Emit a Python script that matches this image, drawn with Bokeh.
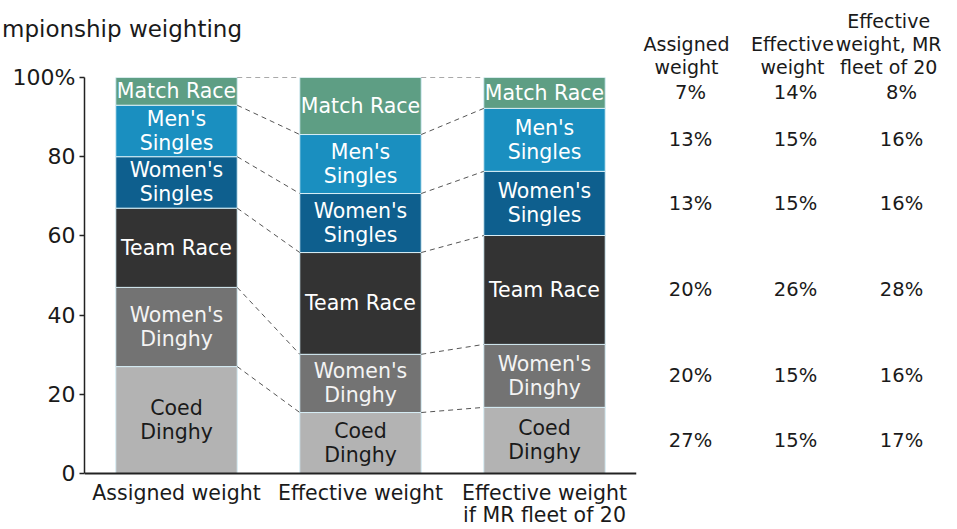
from bokeh.plotting import figure
from bokeh.models import ColumnDataSource, FixedTicker, Range1d, Span, LinearAxis
from bokeh.layouts import row
from bokeh.embed import file_html
from bokeh.resources import INLINE
from bokeh.core.properties import value

# ---------------- data ----------------
bars = ["Assigned weight", "Effective weight", "Effective weight\nif MR fleet of 20"]
events = ["Coed Dinghy", "Women's Dinghy", "Team Race", "Women's Singles", "Men's Singles", "Match Race"]
seg_labels = ["Coed\nDinghy", "Women's\nDinghy", "Team Race", "Women's\nSingles", "Men's\nSingles", "Match Race"]
assigned = [27, 20, 20, 13, 13, 7]
effective = [15.4, 14.7, 25.7, 14.9, 14.9, 14.4]
mr20 = [16.7, 15.9, 27.5, 16.2, 15.9, 7.8]

table_headers = ["Assigned\nweight", "Effective\nweight", "Effective\nweight, MR\nfleet of 20"]
table_assigned = [27, 20, 20, 13, 13, 7]
table_effective = [15, 15, 26, 15, 15, 14]
table_mr20 = [17, 16, 28, 16, 16, 8]

title_text = "mpionship weighting"   # visible part of the title, cropped at the left edge in the reference
y_ticks = [0, 20, 40, 60, 80, 100]

colors = ["#b3b3b3", "#737373", "#333333", "#0e5f8e", "#1a8fc0", "#5e9e84"]
text_colors = ["#1a1a1a", "#f4f4f4", "#ffffff", "#ffffff", "#ffffff", "#ffffff"]
FONT = value("DejaVu Sans")
TXT = "#1a1a1a"

series = [assigned, effective, mr20]


def cumulative(vals):
    out, s = [], 0
    for v in vals:
        out.append((s, s + v))
        s += v
    return out


# ---------------- geometry (pixels) ----------------
H = 527
MAIN_W = 640
TABLE_W = 941 - MAIN_W
FRAME_LEFT = 84
FRAME_TOP = 77           # canvas px of y = 100
PLOT_H = 396             # px from y = 0 to y = 100
PX = PLOT_H / 100.0


def y_of(canvas_px):
    return 100 - (canvas_px - FRAME_TOP) / PX


Y_BOT = y_of(H)
BW = 0.66
centers = [i + 0.5 for i in range(len(bars))]   # bar positions on the category scale

# ---------------- sources ----------------
xs, tops, bottoms, mids, cols, labs, tcols = [], [], [], [], [], [], []
for cx, vals in zip(centers, series):
    for (lo, hi), c, lab, tc in zip(cumulative(vals), colors, seg_labels, text_colors):
        xs.append(cx); bottoms.append(lo); tops.append(hi); mids.append((lo + hi) / 2)
        cols.append(c); labs.append(lab); tcols.append(tc)
src = ColumnDataSource(dict(x=xs, top=tops, bottom=bottoms, mid=mids, color=cols, label=labs, tcolor=tcols))

x0, x1, y0, y1 = [], [], [], []
for i in range(len(bars) - 1):
    c0 = cumulative(series[i])
    c1 = cumulative(series[i + 1])
    for k in range(len(events)):
        x0.append(centers[i] + BW / 2); x1.append(centers[i + 1] - BW / 2)
        y0.append(c0[k][1]); y1.append(c1[k][1])
seg_src = ColumnDataSource(dict(x0=x0, x1=x1, y0=y0, y1=y1))

# ---------------- main chart ----------------
p = figure(x_range=Range1d(0, len(bars)), y_range=Range1d(Y_BOT, 100),
           width=MAIN_W, height=H, output_backend="svg", toolbar_location=None,
           x_axis_location=None,
           min_border_left=FRAME_LEFT, min_border_right=4, min_border_top=FRAME_TOP, min_border_bottom=0)
p.outline_line_color = None
p.grid.visible = False
p.background_fill_color = "white"
p.border_fill_color = "white"

# title: the single label of an axis above the frame
TITLE_X = 0.1875
title_axis = LinearAxis(ticker=FixedTicker(ticks=[TITLE_X]),
                        major_label_overrides={TITLE_X: title_text})
title_axis.axis_line_color = None
title_axis.major_tick_line_color = None
title_axis.minor_tick_line_color = None
title_axis.major_tick_out = 0
title_axis.major_tick_in = 0
title_axis.major_label_standoff = 36
title_axis.major_label_text_font = "DejaVu Sans"
title_axis.major_label_text_font_size = "23px"
title_axis.major_label_text_color = TXT
p.add_layout(title_axis, "above")

p.vbar(x="x", top="top", bottom="bottom", width=BW, fill_color="color",
       line_color="#d6edf5", line_width=1, source=src)
p.text(x="x", y="mid", text="label", text_color="tcolor", text_align="center",
       text_baseline="middle", text_font=FONT, text_font_size="20.5px",
       text_line_height=1.0, source=src)

p.segment(x0="x0", y0="y0", x1="x1", y1="y1",
          line_color="#555555", line_width=1, line_dash="5 4", source=seg_src)

# x axis line and category labels
p.add_layout(Span(location=0, dimension="width", line_color="#222222", line_width=2))
cat_src = ColumnDataSource(dict(x=centers, y=[y_of(480)] * len(bars), text=bars))
p.text(x="x", y="y", text="text", source=cat_src, text_align="center",
       text_baseline="top", text_font=FONT, text_font_size="20.5px",
       text_color=TXT, text_line_height=0.92)

# y axis
p.yaxis.ticker = FixedTicker(ticks=y_ticks)
p.yaxis.bounds = (0, 100)
p.yaxis.major_label_overrides = {100: "100%"}
p.yaxis.axis_line_width = 1.5
p.yaxis.axis_line_color = "#222222"
p.yaxis.major_tick_line_color = "#222222"
p.yaxis.major_tick_line_width = 1.5
p.yaxis.major_tick_out = 5
p.yaxis.major_tick_in = 0
p.yaxis.minor_tick_line_color = None
p.yaxis.major_label_standoff = 4
p.yaxis.major_label_text_font = "DejaVu Sans"
p.yaxis.major_label_text_font_size = "22px"
p.yaxis.major_label_text_color = TXT

# ---------------- table ----------------
col_x_vals = [50, 155, 261]
col_x_head = [46, 152, 252]

t = figure(x_range=Range1d(0, TABLE_W), y_range=p.y_range,
           width=TABLE_W, height=H, output_backend="svg", toolbar_location=None,
           x_axis_location="above", y_axis_location=None,
           min_border_left=0, min_border_right=0, min_border_top=FRAME_TOP, min_border_bottom=0)
t.outline_line_color = None
t.grid.visible = False
t.background_fill_color = "white"
t.border_fill_color = "white"

t.xaxis.ticker = FixedTicker(ticks=col_x_head)
t.xaxis.major_label_overrides = {cx: h for cx, h in zip(col_x_head, table_headers)}
t.xaxis.axis_line_color = None
t.xaxis.major_tick_line_color = None
t.xaxis.minor_tick_line_color = None
t.xaxis.major_tick_out = 0
t.xaxis.major_tick_in = 0
t.xaxis.major_label_standoff = 0
t.xaxis.major_label_text_font = "DejaVu Sans"
t.xaxis.major_label_text_font_size = "19px"
t.xaxis.major_label_text_color = TXT
t.xaxis.major_label_text_line_height = 1.04

row_mids = [(lo + hi) / 2 for lo, hi in cumulative(mr20)]
vx, vy, vt = [], [], []
for cx, vals in zip(col_x_vals, [table_assigned, table_effective, table_mr20]):
    for ry, v in zip(row_mids, vals):
        vx.append(cx); vy.append(ry); vt.append(f"{v}%")
t.text(x=vx, y=vy, text=vt, text_align="center", text_baseline="middle",
       text_font=FONT, text_font_size="19.5px", text_color=TXT)

layout = row(p, t, spacing=0)
open("out.html", "w").write(file_html(layout, INLINE))
